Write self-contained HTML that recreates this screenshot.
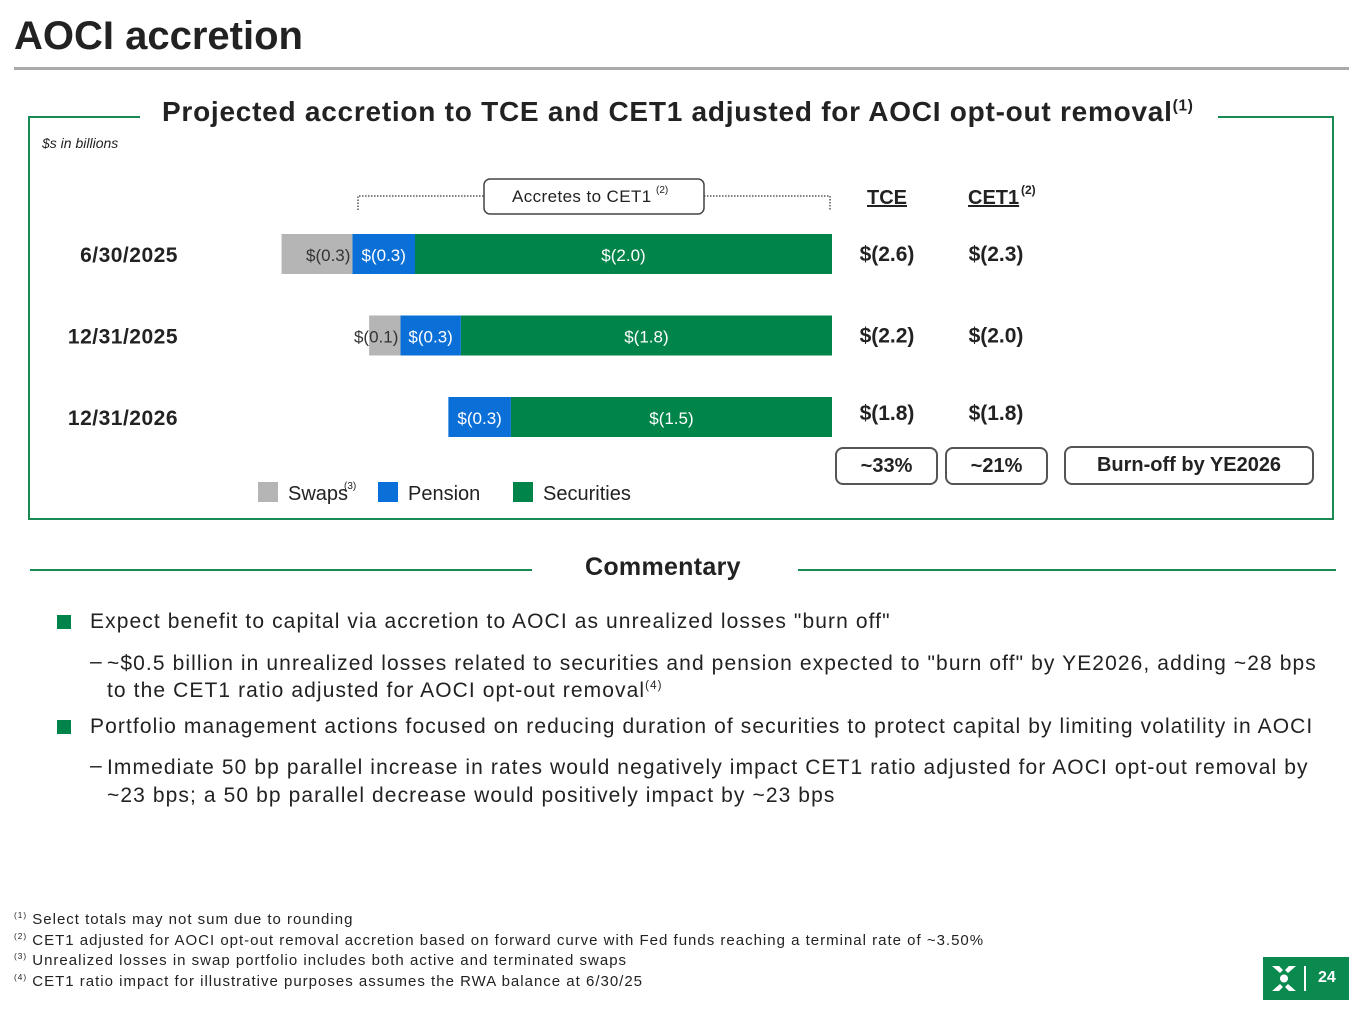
<!DOCTYPE html>
<html><head><meta charset="utf-8">
<style>
body{margin:0;width:1365px;height:1024px;background:#fff;position:relative;overflow:hidden;font-family:"Liberation Sans",sans-serif;color:#222}
.a{position:absolute;white-space:nowrap}
.b{font-weight:bold}
sup{font-size:0.55em;vertical-align:super;line-height:0}
.pill{position:absolute;border:2px solid #555;border-radius:8px;font-weight:bold;font-size:20px;text-align:center;box-sizing:border-box;line-height:34px}
.bul{position:absolute;width:14px;height:14px;background:#00844a}
.cm{font-size:21px;letter-spacing:1.1px}
</style></head><body>
<div class="a b" style="left:14px;top:14px;font-size:40px">AOCI accretion</div>
<div class="a" style="left:14px;top:67px;width:1335px;height:3px;background:#aaa"></div>

<div class="a" style="left:28px;top:116px;width:1306px;height:404px;border:2px solid #1a8a55;box-sizing:border-box"></div>
<div class="a b" style="left:140px;top:96px;padding:0 24px 0 22px;background:#fff;font-size:28px;letter-spacing:0.75px">Projected accretion to TCE and CET1 adjusted for AOCI opt-out removal<sup>(1)</sup></div>
<div class="a" style="left:42px;top:135px;font-size:14px;font-style:italic">$s in billions</div>

<svg class="a" style="left:0;top:0" width="1365" height="530" id="chart"></svg>

<div class="pill" style="left:835px;top:447px;width:103px;height:38px">~33%</div>
<div class="pill" style="left:945px;top:447px;width:103px;height:38px">~21%</div>
<div class="pill" style="left:1064px;top:446px;width:250px;height:39px">Burn-off by YE2026</div>

<div class="a" style="left:30px;top:569px;width:502px;height:2px;background:#1a8a55"></div>
<div class="a" style="left:798px;top:569px;width:538px;height:2px;background:#1a8a55"></div>
<div class="a b" style="left:585px;top:553px;font-size:25px;letter-spacing:0.3px">Commentary</div>

<div class="bul" style="left:57px;top:615px"></div>
<div class="a cm" style="left:90px;top:610px">Expect benefit to capital via accretion to AOCI as unrealized losses "burn off"</div>
<div class="a cm" style="left:90px;top:650px">–</div>
<div class="a cm" style="left:107px;top:650px;line-height:27px">~$0.5 billion in unrealized losses related to securities and pension expected to "burn off" by YE2026, adding ~28 bps<br>to the CET1 ratio adjusted for AOCI opt-out removal<sup>(4)</sup></div>
<div class="bul" style="left:57px;top:720px"></div>
<div class="a cm" style="left:90px;top:715px">Portfolio management actions focused on reducing duration of securities to protect capital by limiting volatility in AOCI</div>
<div class="a cm" style="left:90px;top:754px">–</div>
<div class="a cm" style="left:107px;top:754px;line-height:28px">Immediate 50 bp parallel increase in rates would negatively impact CET1 ratio adjusted for AOCI opt-out removal by<br>~23 bps; a 50 bp parallel decrease would positively impact by ~23 bps</div>

<div class="a" style="left:14px;top:910px;font-size:15px;line-height:20.5px;letter-spacing:1px"><sup>(1)</sup> Select totals may not sum due to rounding<br><sup>(2)</sup> CET1 adjusted for AOCI opt-out removal accretion based on forward curve with Fed funds reaching a terminal rate of ~3.50%<br><sup>(3)</sup> Unrealized losses in swap portfolio includes both active and terminated swaps<br><sup>(4)</sup> CET1 ratio impact for illustrative purposes assumes the RWA balance at 6/30/25</div>

<div class="a" style="left:1263px;top:957px;width:86px;height:43px;background:#0a8a4f">
 <svg width="86" height="43"><g fill="#fff"><circle cx="21" cy="21.5" r="4"/><path d="M9 9h7l4 4-3 3zM33 9h-7l-4 4 3 3zM9 34h7l4-4-3-3zM33 34h-7l-4-4 3-3z"/></g><rect x="41" y="9" width="2" height="25" fill="#fff"/></svg>
 <div class="a b" style="left:55px;top:12px;color:#fff;font-size:16px">24</div>
</div>

<script>
const categories=["6/30/2025","12/31/2025","12/31/2026"];
const swaps=[0.34,0.15,0];
const pension=[0.30,0.29,0.30];
const securities=[2.0,1.78,1.54];
const swapLabels=["$(0.3)","$(0.1)",""];
const pensionLabels=["$(0.3)","$(0.3)","$(0.3)"];
const securitiesLabels=["$(2.0)","$(1.8)","$(1.5)"];
const tceLabels=["$(2.6)","$(2.2)","$(1.8)"];
const cet1Labels=["$(2.3)","$(2.0)","$(1.8)"];

const NS="http://www.w3.org/2000/svg";
const svg=document.getElementById("chart");
const x0=832, scale=208.5, rowY0=234, rowGap=81.5, barH=40;
const xs=v=>x0-v*scale;
const ys=i=>rowY0+i*rowGap;
function mk(tag,attrs){const e=document.createElementNS(NS,tag);for(const k in attrs)e.setAttribute(k,attrs[k]);svg.appendChild(e);return e;}
function txt(x,y,s,attrs){const t=mk("text",Object.assign({x:x,y:y,"font-family":"Liberation Sans, sans-serif"},attrs));t.textContent=s;return t;}

mk("path",{d:"M358 210 V196 H484 M704 196 H830 V210",fill:"none",stroke:"#555","stroke-width":1.5,"stroke-dasharray":"1.5 1.5"});
const br=mk("rect",{x:484,y:179,width:220,height:35,rx:6,fill:"#fff",stroke:"#444","stroke-width":1.5});


const bt=txt(512,202,"Accretes to CET1",{"font-size":17,fill:"#222","letter-spacing":"0.4"});


txt(656,193,"(2)",{"font-size":10,fill:"#222"});

const h1=txt(887,204,"TCE",{"font-size":20,"font-weight":"bold","text-anchor":"middle","text-decoration":"underline",fill:"#222"});


const h2=txt(968,204,"CET1",{"font-size":20,"font-weight":"bold","text-decoration":"underline",fill:"#222"});


txt(1021,194,"(2)",{"font-size":12,"font-weight":"bold",fill:"#222"});

categories.forEach((c,i)=>{
  const y=ys(i);
  const cl=txt(178,y+28,c,{"font-size":21,"font-weight":"bold","text-anchor":"end",fill:"#222","letter-spacing":"0.5"});
  
  
  const s0=x0, s1=xs(securities[i]), p1=xs(securities[i]+pension[i]), w1=xs(securities[i]+pension[i]+swaps[i]);
  const rs=mk("rect",{x:s1,y:y,width:s0-s1,height:barH,fill:"#00844a"});
  
  
  txt((s0+s1)/2,y+27,securitiesLabels[i],{"font-size":17,"text-anchor":"middle",fill:"#fff"});
  const rp=mk("rect",{x:p1,y:y,width:s1-p1,height:barH,fill:"#0a6fd6"});
  
  
  txt((s1+p1)/2,y+27,pensionLabels[i],{"font-size":17,"text-anchor":"middle",fill:"#fff"});
  if(swaps[i]>0){
    const rw=mk("rect",{x:w1,y:y,width:p1-w1,height:barH,fill:"#b5b5b5"});
    
    
    txt(p1-2,y+27,swapLabels[i],{"font-size":17,"text-anchor":"end",fill:"#333"});
  }
  const t=txt(887,y+27-(i==2?4:0),tceLabels[i],{"font-size":21,"font-weight":"bold","text-anchor":"middle",fill:"#222"});
  
  
  const t2=txt(996,y+27-(i==2?4:0),cet1Labels[i],{"font-size":21,"font-weight":"bold","text-anchor":"middle",fill:"#222"});
  
  
});

const legend=[["Swaps","#b5b5b5",258,"(3)"],["Pension","#0a6fd6",378,""],["Securities","#00844a",513,""]];
legend.forEach(l=>{
  const r=mk("rect",{x:l[2],y:482,width:20,height:20,fill:l[1]});
  
  
  const t=txt(l[2]+30,500,l[0],{"font-size":20,fill:"#222"});
  
  
  if(l[3])txt(l[2]+86,489,l[3],{"font-size":10,fill:"#222"});
});
</script>
</body></html>
